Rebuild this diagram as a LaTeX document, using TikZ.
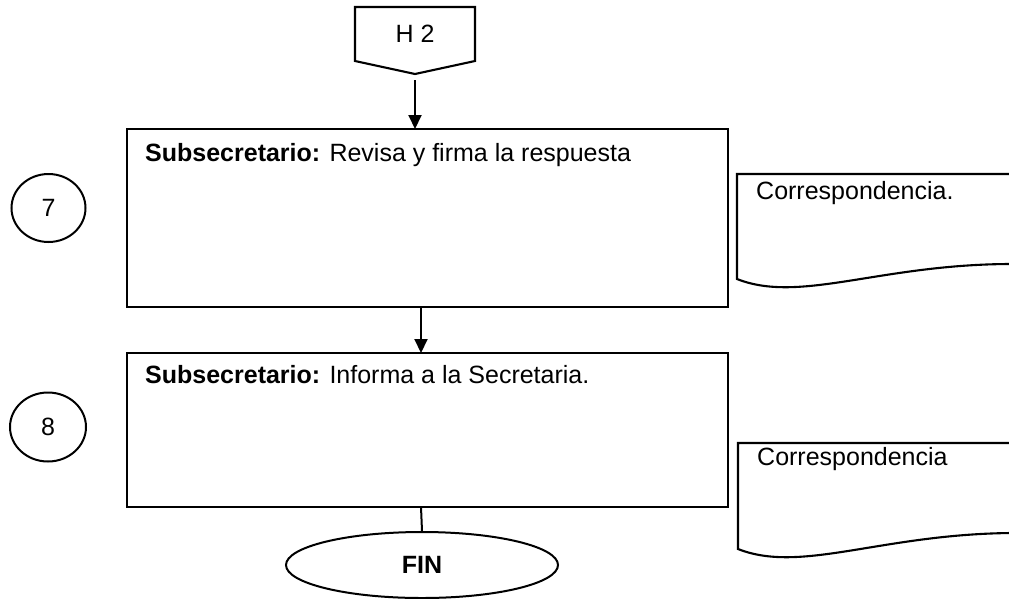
\documentclass[tikz,border=0pt]{standalone}
\usepackage{fontspec}
\setmainfont{Liberation Sans}
\usetikzlibrary{shapes.geometric, arrows.meta, positioning}

\begin{document}
\begin{tikzpicture}[
        x=1pt, y=-1pt,
        every node/.style={font=\fontsize{25}{30}\selectfont},
        stepbox/.style={rectangle, draw, line width=2.3pt, minimum width=601pt, outer sep=0pt},
        numcircle/.style={ellipse, draw, line width=2pt, minimum width=74pt, minimum height=68pt, inner sep=0pt},
        terminal/.style={ellipse, draw, line width=2pt, minimum width=272pt, minimum height=66pt, inner sep=0pt, font=\fontsize{25}{30}\selectfont\bfseries},
        doc/.style={draw, line width=2.1pt},
        arrow/.style={-{Triangle[width=13pt, length=14pt]}, line width=2pt}
    ]
    \useasboundingbox (0,0) rectangle (1009,598);

    % Off-page connector
    \node[minimum width=120pt, minimum height=54pt, inner sep=0pt, outer sep=0pt] (h2) at (415,34) {H 2};
    \coordinate (h2tip) at ([yshift=-13pt]h2.south);
    \draw[line width=2.1pt] (h2.south west) -- (h2.north west) -- (h2.north east) -- (h2.south east) -- (h2tip) -- cycle;

    % Step 7
    \node[stepbox, minimum height=178pt] (revisa) at (427.5,218) {};
    \node[anchor=base west, inner sep=0pt] (revisatxt) at ([xshift=18pt, yshift=-32pt]revisa.north west) {\textbf{Subsecretario:} Revisa y firma la respuesta};
    \node[numcircle] (n7) at (48.5,208) {7};

    % Step 8
    \node[stepbox, minimum height=154pt, below=46pt of revisa] (informa) {};
    \node[anchor=base west, inner sep=0pt] (informatxt) at ([xshift=18pt, yshift=-30pt]informa.north west) {\textbf{Subsecretario:} Informa a la Secretaria.};
    \node[numcircle, minimum width=76pt, minimum height=69pt] (n8) at (48,427) {8};

    % End
    \node[terminal] (fin) at (422,565) {FIN};

    % Documents
    \draw[doc] (1012,174) -- (737,174) -- (737,279) .. controls (800,304) and (880,264) .. (1012,264);
    \node[anchor=base west, inner sep=0pt] (corr1) at (756,199) {Correspondencia.};
    \draw[doc] (1012,443) -- (738,443) -- (738,549) .. controls (801,574) and (881,534) .. (1012,533);
    \node[anchor=base west, inner sep=0pt] (corr2) at (757,465) {Correspondencia};

    % Connectors
    \draw[arrow] ([yshift=-6pt]h2tip) -- (h2tip |- revisa.north);
    \draw[arrow] ([xshift=-6.5pt]revisa.south) -- ([xshift=-6.5pt]informa.north);
    \draw[line width=2pt] ([xshift=-6.5pt]informa.south) -- (fin.north);

\end{tikzpicture}
\end{document}
